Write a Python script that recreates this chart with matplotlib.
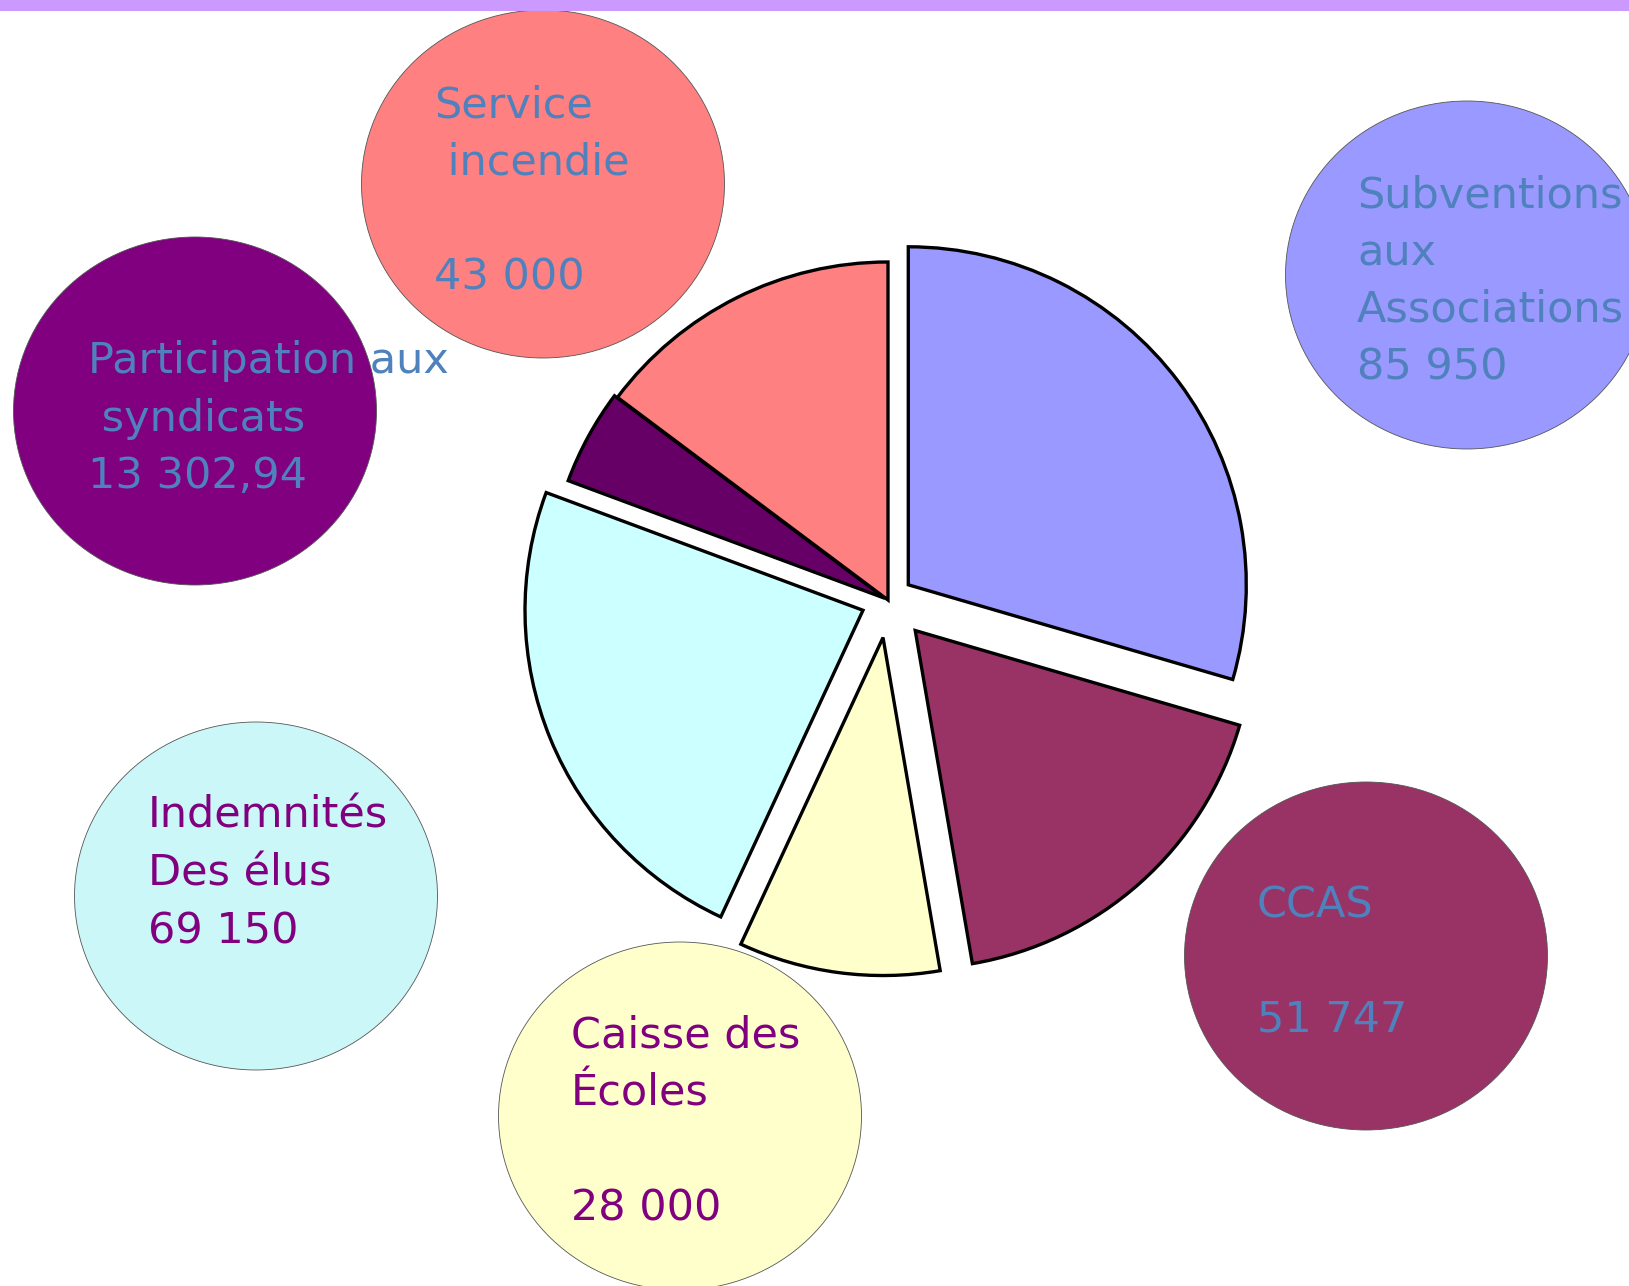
import matplotlib
matplotlib.use('Agg')
import matplotlib.pyplot as plt
from matplotlib.patches import Ellipse, Rectangle

W, H = 1629, 1286

# parts du camembert (sens horaire depuis midi)
postes = ["Subventions aux Associations", "CCAS", "Caisse des Écoles",
          "Indemnités des élus", "Participation aux syndicats", "Service incendie"]
montants = [85950, 51747, 28000, 69150, 13302.94, 43000]
couleurs_parts = ['#9999FF', '#993366', '#FFFFCC', '#CCFFFF', '#660066', '#FF8080']
decalage = [0.075, 0.121, 0.112, 0.08, 0.01, 0.0]

# bulles de texte
etiquettes = [
    ["Subventions", "aux", "Associations", "85 950"],
    ["CCAS", "", "51 747"],
    ["Caisse des", "Écoles", "", "28 000"],
    ["Indemnités", "Des élus", "69 150"],
    ["Participation aux", " syndicats", "13 302,94"],
    ["Service", " incendie", "", "43 000"],
]
bleu = '#4F81BD'
violet = '#800080'
couleurs_bulles = ['#9999FF', '#993366', '#FFFFCC', '#CCF7F8', '#800080', '#FF8080']
couleurs_texte = [bleu, bleu, violet, violet, bleu, bleu]
centres_bulles = [(1467, 275), (1366, 956), (680, 1116), (256, 896), (195, 411), (543, 184)]
texte_xy = [(1357, 207), (1257, 917), (571, 1048), (148, 828), (88, 373), (434, 117)]
interligne = 57.5
rayon = 338


def y(p):
    # pixels depuis le haut -> coordonnées de l'axe
    return H - p


fig = plt.figure(figsize=(W / 100, H / 100), dpi=100)
ax = fig.add_axes([0, 0, 1, 1])

for (cx, cy), c in zip(centres_bulles, couleurs_bulles):
    ax.add_patch(Ellipse((cx, y(cy)), 363, 348, facecolor=c,
                         edgecolor='#555555', linewidth=0.6, zorder=1))

for lignes, (tx, ty), c in zip(etiquettes, texte_xy, couleurs_texte):
    for i, l in enumerate(lignes):
        ax.text(tx, y(ty + i * interligne), l, color=c, fontsize=31,
                family='DejaVu Sans', ha='left', va='baseline', zorder=5)

# explode est en unités de données chez matplotlib -> multiplier par le rayon
ax.pie(montants, colors=couleurs_parts, explode=[d * rayon for d in decalage],
       startangle=90, counterclock=False, center=(888, y(600)), radius=rayon,
       wedgeprops=dict(edgecolor='black', linewidth=2.4, zorder=3))

ax.add_patch(Rectangle((0, y(11)), W, 11, facecolor='#CC99FF',
                       edgecolor='none', zorder=6))

ax.set_xlim(0, W)
ax.set_ylim(0, H)
ax.set_aspect('equal')
ax.set_axis_off()

fig.savefig('out.png', dpi=100)
